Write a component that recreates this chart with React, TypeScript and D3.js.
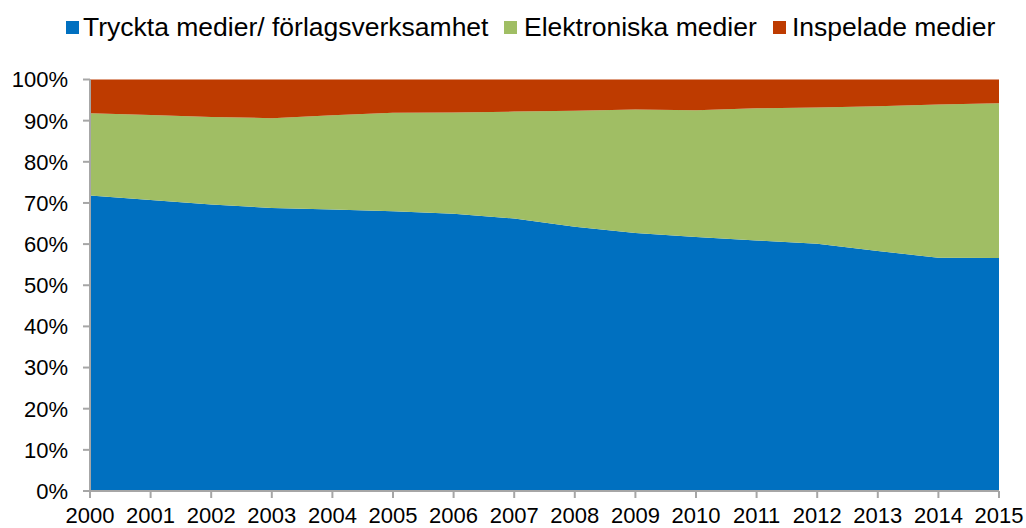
import React from "react";
import * as d3 from "d3";

const years = [2000, 2001, 2002, 2003, 2004, 2005, 2006, 2007, 2008, 2009, 2010, 2011, 2012, 2013, 2014, 2015];
const seriesNames = ["Tryckta medier/ förlagsverksamhet", "Elektroniska medier", "Inspelade medier"];
const tryckta = [71.8, 70.7, 69.6, 68.8, 68.4, 68.0, 67.4, 66.2, 64.2, 62.7, 61.7, 60.9, 60.1, 58.3, 56.7, 56.6];
const elektroniska = [20.0, 20.7, 21.3, 21.8, 22.9, 23.9, 24.6, 26.0, 28.2, 30.0, 30.8, 32.1, 33.1, 35.2, 37.2, 37.6];
const inspelade = [8.2, 8.6, 9.1, 9.4, 8.7, 8.1, 8.0, 7.8, 7.6, 7.3, 7.5, 7.0, 6.8, 6.5, 6.1, 5.8];
const yTicks = [0, 0.1, 0.2, 0.3, 0.4, 0.5, 0.6, 0.7, 0.8, 0.9, 1];
const colors = ["#0070C0", "#A0BE64", "#BE3B00"];

const W = 1026;
const H = 528;
const left = 90;
const right = 999;
const top = 79.5;
const bottom = 491;
const font = "'Liberation Sans', Arial, sans-serif";

export default function App() {
  const rows = years.map((y, i) => ({ year: y, s0: tryckta[i], s1: elektroniska[i], s2: inspelade[i] }));
  const stack = d3.stack<any>().keys(["s0", "s1", "s2"]).offset(d3.stackOffsetExpand);
  const layers = stack(rows);
  const x = d3.scaleLinear().domain([years[0], years[years.length - 1]]).range([left, right]);
  const y = d3.scaleLinear().domain([0, 1]).range([bottom, top]);
  const area = d3
    .area<any>()
    .x((d) => x(d.data.year))
    .y0((d) => y(d[0]))
    .y1((d) => y(d[1]));

  const legendX = [[66, 83], [504, 524], [773, 792]];
  const axisColor = "#A6A6A6";

  return (
    <svg width={W} height={H} style={{ position: "absolute", left: 0, top: 0 }} fontFamily={font}>
      <rect width={W} height={H} fill="#fff" />
      {layers.map((l, i) => (
        <path key={i} d={area(l as any) || ""} fill={colors[i]} />
      ))}
      {/* y axis */}
      <line x1={left} x2={left} y1={top} y2={bottom} stroke={axisColor} strokeWidth={2} />
      {yTicks.map((t) => (
        <g key={t}>
          <line x1={left - 7} x2={left} y1={y(t)} y2={y(t)} stroke={axisColor} strokeWidth={2} />
          <text x={68} y={y(t)} dy="0.36em" textAnchor="end" fontSize={22} fill="#000">
            {d3.format(".0%")(t)}
          </text>
        </g>
      ))}
      {/* x axis */}
      <line x1={left} x2={right} y1={bottom} y2={bottom} stroke={axisColor} strokeWidth={2} />
      {years.map((yr) => (
        <g key={yr}>
          <line x1={x(yr)} x2={x(yr)} y1={bottom} y2={bottom + 7} stroke={axisColor} strokeWidth={2} />
          <text x={x(yr)} y={523} textAnchor="middle" fontSize={22} fill="#000">
            {yr}
          </text>
        </g>
      ))}
      {/* legend */}
      {seriesNames.map((n, i) => (
        <g key={n}>
          <rect x={legendX[i][0]} y={21} width={13} height={13} fill={colors[i]} />
          <text x={legendX[i][1]} y={35.5} fontSize={26.5} fill="#000">
            {n}
          </text>
        </g>
      ))}
    </svg>
  );
}
